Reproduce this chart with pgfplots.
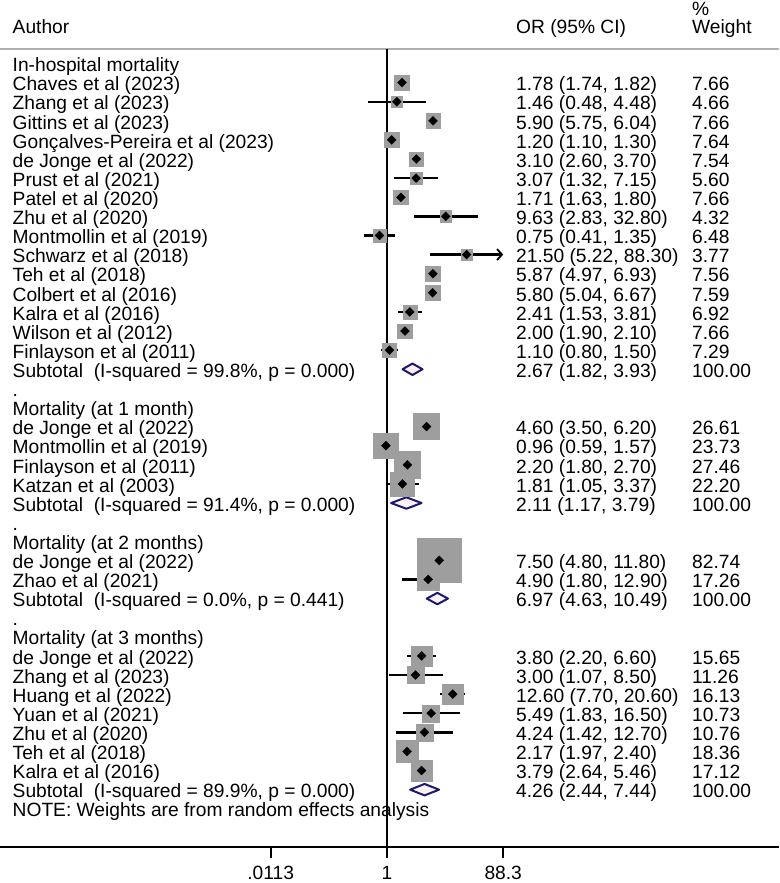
\documentclass[border=0pt]{standalone}
\usepackage{fontspec}
\setmainfont{Liberation Sans}
\usepackage{pgfplots}
\pgfplotsset{compat=1.18}
\usepackage{pgfplotstable}
\usetikzlibrary{arrows.meta}

\definecolor{boxgray}{RGB}{158,158,158}
\definecolor{navyd}{RGB}{26,26,110}
\definecolor{dfill}{RGB}{252,242,246}
\definecolor{rulegray}{RGB}{175,175,175}

% y = -row ; or lo hi = odds ratio and 95% CI ; w = % weight
\pgfplotstableread{
y or lo hi w
-1 1.78 1.74 1.82 7.66
-2 1.46 0.48 4.48 4.66
-3 5.90 5.75 6.04 7.66
-4 1.20 1.10 1.30 7.64
-5 3.10 2.60 3.70 7.54
-6 3.07 1.32 7.15 5.60
-7 1.71 1.63 1.80 7.66
-8 9.63 2.83 32.80 4.32
-9 0.75 0.41 1.35 6.48
-10 21.50 5.22 88.30 3.77
-11 5.87 4.97 6.93 7.56
-12 5.80 5.04 6.67 7.59
-13 2.41 1.53 3.81 6.92
-14 2.00 1.90 2.10 7.66
-15 1.10 0.80 1.50 7.29
-19 4.60 3.50 6.20 26.61
-20 0.96 0.59 1.57 23.73
-21 2.20 1.80 2.70 27.46
-22 1.81 1.05 3.37 22.20
-26 7.50 4.80 11.80 82.74
-27 4.90 1.80 12.90 17.26
-31 3.80 2.20 6.60 15.65
-32 3.00 1.07 8.50 11.26
-33 12.60 7.70 20.60 16.13
-34 5.49 1.83 16.50 10.73
-35 4.24 1.42 12.70 10.76
-36 2.17 1.97 2.40 18.36
-37 3.79 2.64 5.46 17.12
}\studies

\def\xA{5.372e-7}
\def\xB{144.5}
\def\xC{1.278e5}
\tikzset{txt/.style={anchor=base west, inner sep=0pt, font=\fontsize{19.2}{19.2}\selectfont}}
\newcommand{\rowtext}[4]{%
  \node[txt,yshift=-8.2pt] at (axis cs:\xA,#1) {#2};%
  \node[txt,yshift=-8.2pt] at (axis cs:\xB,#1) {#3};%
  \node[txt,yshift=-8.2pt] at (axis cs:\xC,#1) {#4};%
}

\begin{document}
\begin{tikzpicture}
\begin{axis}[
  at={(0,0)}, anchor=south west,
  scale only axis, width=779pt, height=847pt,
  xmode=log, xmin=3.317e-7, xmax=3.656e6,
  ymin=-41.0, ymax=3.323,
  axis x line*=bottom, axis y line=none,
  x axis line style={black, line width=1.8pt, -},
  xtick={0.0113,1,88.3}, xticklabels={},
  tick align=outside, major tick length=11pt,
  xtick style={black, line width=1.8pt},
  ytick=\empty,
  clip=false,
]
% header rule and null line
\addplot[rulegray, line width=1.5pt] coordinates {(3.317e-7,0.759) (3.656e6,0.759)};
\addplot[black, line width=1.8pt] coordinates {(1,0.759) (1,-41.0)};

% weight boxes
\addplot[scatter, only marks, mark=square*,
  scatter/use mapped color={draw=boxgray, fill=boxgray},
  visualization depends on={2.35*sqrt(\thisrow{w})+0.8 \as \ms},
  scatter/@pre marker code/.append style={/tikz/mark size=\ms}]
  table[x=or, y=y] {\studies};

% confidence intervals
\addplot[black, line width=2.4pt, unbounded coords=jump] coordinates {
(1.74,-1) (1.82,-1) (nan,nan)
(0.48,-2) (4.48,-2) (nan,nan)
(5.75,-3) (6.04,-3) (nan,nan)
(1.10,-4) (1.30,-4) (nan,nan)
(2.60,-5) (3.70,-5) (nan,nan)
(1.32,-6) (7.15,-6) (nan,nan)
(1.63,-7) (1.80,-7) (nan,nan)
(2.83,-8) (32.80,-8) (nan,nan)
(0.41,-9) (1.35,-9) (nan,nan)
(4.97,-11) (6.93,-11) (nan,nan)
(5.04,-12) (6.67,-12) (nan,nan)
(1.53,-13) (3.81,-13) (nan,nan)
(1.90,-14) (2.10,-14) (nan,nan)
(0.80,-15) (1.50,-15) (nan,nan)
(3.50,-19) (6.20,-19) (nan,nan)
(0.59,-20) (1.57,-20) (nan,nan)
(1.80,-21) (2.70,-21) (nan,nan)
(1.05,-22) (3.37,-22) (nan,nan)
(4.80,-26) (11.80,-26) (nan,nan)
(1.80,-27) (12.90,-27) (nan,nan)
(2.20,-31) (6.60,-31) (nan,nan)
(1.07,-32) (8.50,-32) (nan,nan)
(7.70,-33) (20.60,-33) (nan,nan)
(1.83,-34) (16.50,-34) (nan,nan)
(1.42,-35) (12.70,-35) (nan,nan)
(1.97,-36) (2.40,-36) (nan,nan)
(2.64,-37) (5.46,-37)
};
\addplot[black, line width=2.4pt, -{Straight Barb[length=5pt,width=11pt,line width=1.8pt]}] coordinates {(5.22,-10) (88.3,-10)};

% point estimates
\addplot[only marks, mark=square*, mark size=3.2pt,
  mark options={rotate=45, fill=black, draw=black, line width=0.2pt}]
  table[x=or, y=y] {\studies};

% subtotal diamonds
\addplot[draw=navyd, fill=dfill, line width=2pt, line join=round] coordinates {(1.82,-16) (2.67,-15.7) (3.93,-16) (2.67,-16.3)} -- cycle;
\addplot[draw=navyd, fill=dfill, line width=2pt, line join=round] coordinates {(1.17,-23) (2.11,-22.7) (3.79,-23) (2.11,-23.3)} -- cycle;
\addplot[draw=navyd, fill=dfill, line width=2pt, line join=round] coordinates {(4.63,-28) (6.97,-27.7) (10.49,-28) (6.97,-28.3)} -- cycle;
\addplot[draw=navyd, fill=dfill, line width=2pt, line join=round] coordinates {(2.44,-38) (4.26,-37.7) (7.44,-38) (4.26,-38.3)} -- cycle;

% header
\node[txt] at (axis cs:\xA,1.580) {Author};
\node[txt] at (axis cs:\xB,1.580) {OR (95\% CI)};
\node[txt] at (axis cs:\xC,2.53) {\%};
\node[txt] at (axis cs:\xC,1.580) {Weight};

% rows
\node[txt,yshift=-8.2pt] at (axis cs:\xA,0) {In-hospital mortality};
\rowtext{-1}{Chaves et al (2023)}{1.78 (1.74, 1.82)}{7.66}
\rowtext{-2}{Zhang et al (2023)}{1.46 (0.48, 4.48)}{4.66}
\rowtext{-3}{Gittins et al (2023)}{5.90 (5.75, 6.04)}{7.66}
\rowtext{-4}{Gonçalves-Pereira et al (2023)}{1.20 (1.10, 1.30)}{7.64}
\rowtext{-5}{de Jonge et al (2022)}{3.10 (2.60, 3.70)}{7.54}
\rowtext{-6}{Prust et al (2021)}{3.07 (1.32, 7.15)}{5.60}
\rowtext{-7}{Patel et al (2020)}{1.71 (1.63, 1.80)}{7.66}
\rowtext{-8}{Zhu et al (2020)}{9.63 (2.83, 32.80)}{4.32}
\rowtext{-9}{Montmollin et al (2019)}{0.75 (0.41, 1.35)}{6.48}
\rowtext{-10}{Schwarz et al (2018)}{21.50 (5.22, 88.30)}{3.77}
\rowtext{-11}{Teh et al (2018)}{5.87 (4.97, 6.93)}{7.56}
\rowtext{-12}{Colbert et al (2016)}{5.80 (5.04, 6.67)}{7.59}
\rowtext{-13}{Kalra et al (2016)}{2.41 (1.53, 3.81)}{6.92}
\rowtext{-14}{Wilson et al (2012)}{2.00 (1.90, 2.10)}{7.66}
\rowtext{-15}{Finlayson et al (2011)}{1.10 (0.80, 1.50)}{7.29}
\rowtext{-16}{Subtotal\ \ (I-squared = 99.8\%, p = 0.000)}{2.67 (1.82, 3.93)}{100.00}
\node[txt,yshift=-8.2pt] at (axis cs:\xA,-17) {.};
\node[txt,yshift=-8.2pt] at (axis cs:\xA,-18) {Mortality (at 1 month)};
\rowtext{-19}{de Jonge et al (2022)}{4.60 (3.50, 6.20)}{26.61}
\rowtext{-20}{Montmollin et al (2019)}{0.96 (0.59, 1.57)}{23.73}
\rowtext{-21}{Finlayson et al (2011)}{2.20 (1.80, 2.70)}{27.46}
\rowtext{-22}{Katzan et al (2003)}{1.81 (1.05, 3.37)}{22.20}
\rowtext{-23}{Subtotal\ \ (I-squared = 91.4\%, p = 0.000)}{2.11 (1.17, 3.79)}{100.00}
\node[txt,yshift=-8.2pt] at (axis cs:\xA,-24) {.};
\node[txt,yshift=-8.2pt] at (axis cs:\xA,-25) {Mortality (at 2 months)};
\rowtext{-26}{de Jonge et al (2022)}{7.50 (4.80, 11.80)}{82.74}
\rowtext{-27}{Zhao et al (2021)}{4.90 (1.80, 12.90)}{17.26}
\rowtext{-28}{Subtotal\ \ (I-squared = 0.0\%, p = 0.441)}{6.97 (4.63, 10.49)}{100.00}
\node[txt,yshift=-8.2pt] at (axis cs:\xA,-29) {.};
\node[txt,yshift=-8.2pt] at (axis cs:\xA,-30) {Mortality (at 3 months)};
\rowtext{-31}{de Jonge et al (2022)}{3.80 (2.20, 6.60)}{15.65}
\rowtext{-32}{Zhang et al (2023)}{3.00 (1.07, 8.50)}{11.26}
\rowtext{-33}{Huang et al (2022)}{12.60 (7.70, 20.60)}{16.13}
\rowtext{-34}{Yuan et al (2021)}{5.49 (1.83, 16.50)}{10.73}
\rowtext{-35}{Zhu et al (2020)}{4.24 (1.42, 12.70)}{10.76}
\rowtext{-36}{Teh et al (2018)}{2.17 (1.97, 2.40)}{18.36}
\rowtext{-37}{Kalra et al (2016)}{3.79 (2.64, 5.46)}{17.12}
\rowtext{-38}{Subtotal\ \ (I-squared = 89.9\%, p = 0.000)}{4.26 (2.44, 7.44)}{100.00}
\node[txt,yshift=-8.2pt] at (axis cs:\xA,-39) {NOTE: Weights are from random effects analysis};

% tick labels
\node[txt, anchor=base] at (axis cs:0.0113,-42.68) {.0113};
\node[txt, anchor=base] at (axis cs:1,-42.68) {1};
\node[txt, anchor=base] at (axis cs:88.3,-42.68) {88.3};
\end{axis}
\pgfresetboundingbox
\useasboundingbox (0,-36pt) rectangle (779pt,847pt);
\end{tikzpicture}
\end{document}
